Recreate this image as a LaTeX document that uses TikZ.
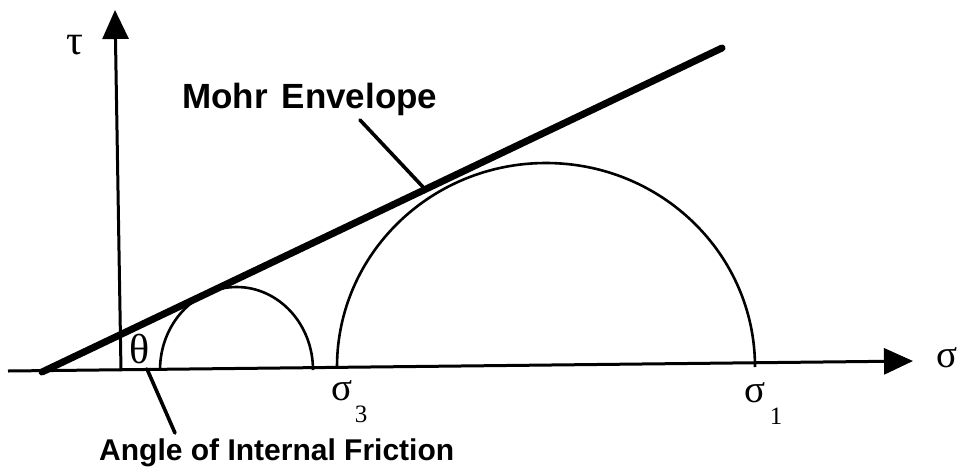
\documentclass[tikz,border=0pt]{standalone}
\usepackage{fontspec}
\setmainfont{Liberation Sans}
\newfontfamily\grk{Liberation Serif}
\usetikzlibrary{arrows.meta}
\tikzset{
  axis/.style={line width=3pt, -{Triangle[length=29pt,width=26pt]}},
  envelope/.style={line width=7pt, line cap=round},
  circ/.style={line width=2.6pt},
  leader/.style={line width=3.6pt, line cap=round},
  mlbl/.style={font=\bfseries\fontsize{35}{40}\selectfont, inner sep=0pt},
  albl/.style={font=\bfseries\fontsize{30}{35}\selectfont, inner sep=0pt},
  greek/.style={font=\grk\fontsize{39}{42}\selectfont, inner sep=0pt},
  biggreek/.style={font=\grk\fontsize{42}{46}\selectfont, inner sep=0pt},
  subs/.style={font=\grk\fontsize{25}{28}\selectfont, inner sep=0pt}
}
\begin{document}
\begin{tikzpicture}[x=1pt,y=-1pt]
\useasboundingbox (0,0) rectangle (957,474);
% axes
\coordinate (hstart) at (8,371);
\coordinate (hend) at (913,361);
\coordinate (vstart) at (121,371);
\coordinate (vend) at (115,10);
\draw[axis] (hstart) -- (hend);
\draw[axis] (vstart) -- (vend);
% envelope
\coordinate (e1) at (42,372);
\coordinate (e2) at (722,48);
\draw[envelope] (e1) -- (e2);
% circles
\coordinate (s1) at (160,370);
\coordinate (l1) at (337,367);
\draw[circ] (s1) arc[start angle=180, end angle=360, x radius=76.5, y radius=83];
\draw[circ] (l1) arc[start angle=180, end angle=360, x radius=209, y radius=204];
% labels
\node[biggreek] (tau) at (75,45) {τ};
\node[greek, anchor=west] (sig) at (936,358) {σ};
\node[biggreek] (theta) at (140,349) {θ};
\node[greek] (s3) at (342,391) {σ};
\node[subs, anchor=north west] (s3i) at ([xshift=2pt,yshift=-4pt]s3.south east) {3};
\node[greek] (s1l) at (755,393) {σ};
\node[subs, anchor=north west] (s1i) at ([xshift=4pt,yshift=-4pt]s1l.south east) {1};
\node[mlbl, anchor=west] (mohr) at (182,99) {Mohr\hspace{14pt}Envelope};
\node[albl, anchor=west] (angle) at (99,453) {Angle of Internal Friction};
% leaders
\coordinate (m1) at (360,120);
\coordinate (m2) at (423,187);
\draw[leader] (m1) -- (m2);
\coordinate (a1) at (147,369);
\coordinate (a2) at (175,433);
\draw[leader] (a1) -- (a2);
\end{tikzpicture}
\end{document}
